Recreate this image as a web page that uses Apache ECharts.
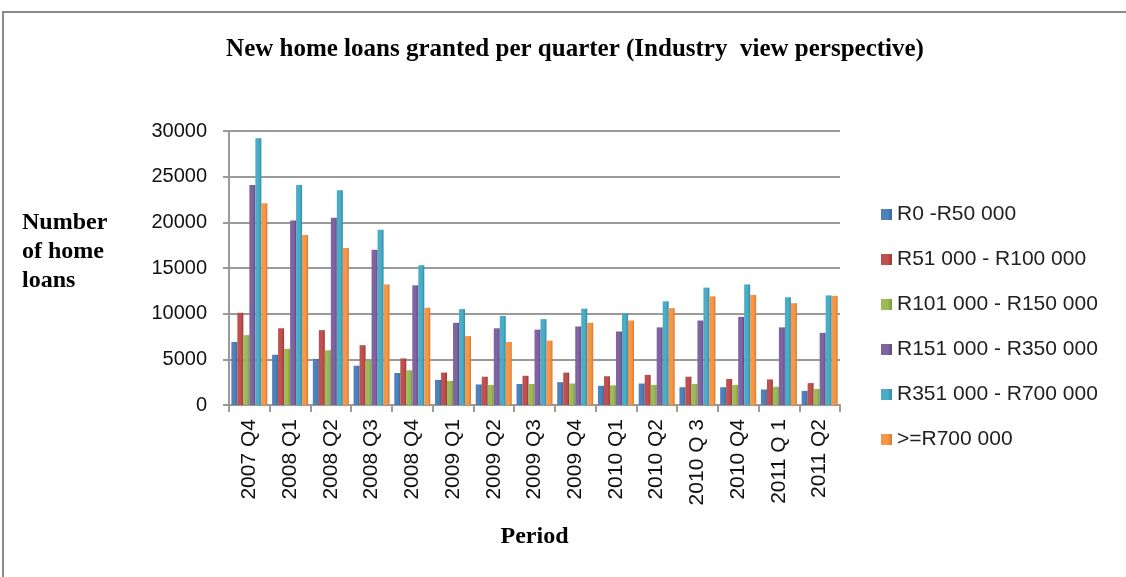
<!DOCTYPE html>
<html>
<head>
<meta charset="utf-8">
<script src="https://cdn.jsdelivr.net/npm/echarts@6/dist/echarts.min.js"></script>
<style>
  html, body { margin: 0; padding: 0; background: #fff; }
  #chart { width: 1126px; height: 577px; }
</style>
</head>
<body>
<div id="chart"></div>
<script>
// quarters along the x axis
const periods = ['2007 Q4', '2008 Q1', '2008 Q2', '2008 Q3', '2008 Q4', '2009 Q1', '2009 Q2',
  '2009 Q3', '2009 Q4', '2010 Q1', '2010 Q2', '2010 Q 3', '2010 Q4', '2011 Q 1', '2011 Q2']

// loan size bands
const r0to50 = [6900, 5500, 5050, 4300, 3500, 2750, 2250, 2300, 2500, 2100, 2350, 1950, 1950, 1700, 1550]
const r51to100 = [10100, 8400, 8200, 6550, 5100, 3550, 3100, 3200, 3550, 3150, 3300, 3100, 2850, 2800, 2400]
const r101to150 = [7650, 6150, 6000, 4850, 3800, 2650, 2200, 2300, 2350, 2150, 2200, 2300, 2200, 2000, 1750]
const r151to350 = [24100, 20200, 20500, 17000, 13100, 9000, 8400, 8250, 8600, 8050, 8500, 9250, 9650, 8500, 7900]
const r351to700 = [29200, 24100, 23500, 19200, 15300, 10500, 9750, 9400, 10550, 10050, 11350, 12850, 13200, 11800, 12000]
const rOver700 = [22100, 18600, 17200, 13200, 10650, 7550, 6900, 7050, 9000, 9250, 10600, 11900, 12050, 11150, 11950]

const yTicks = [0, 5000, 10000, 15000, 20000, 25000, 30000]

const bands = [
  { name: 'R0 -R50 000', data: r0to50, color: '#4F81BD', dark: '#3A6698' },
  { name: 'R51 000 - R100 000', data: r51to100, color: '#C0504D', dark: '#9B3A37' },
  { name: 'R101 000 - R150 000', data: r101to150, color: '#9BBB59', dark: '#7A9A3E' },
  { name: 'R151 000 - R350 000', data: r151to350, color: '#8064A2', dark: '#634A82' },
  { name: 'R351 000 - R700 000', data: r351to700, color: '#4BACC6', dark: '#2F8CA6' },
  { name: '>=R700 000', data: rOver700, color: '#F79646', dark: '#D57A2E' }
]

const chart = echarts.init(document.getElementById('chart'))

chart.setOption({
  animation: false,
  title: {
    text: 'New home loans granted per quarter (Industry  view perspective)',
    left: 570,
    textAlign: 'center',
    top: 32,
    textStyle: { fontFamily: 'Liberation Serif', fontWeight: 'bold', fontSize: 25, color: '#000' }
  },
  graphic: [
    {
      type: 'rect',
      shape: { x: 3, y: 12, width: 1130, height: 575 },
      style: { fill: 'none', stroke: '#8a8a8a', lineWidth: 2 }
    },
    {
      type: 'text',
      left: 22,
      top: 208,
      style: {
        text: 'Number\nof home\nloans',
        fontFamily: 'Liberation Serif',
        fontWeight: 'bold',
        fontSize: 24,
        lineHeight: 29,
        fill: '#000'
      }
    }
  ],
  legend: {
    orient: 'vertical',
    left: 876,
    top: 199,
    itemWidth: 11,
    itemHeight: 11,
    itemGap: 24,
    icon: 'rect',
    textStyle: { fontFamily: 'Liberation Sans', fontSize: 21, color: '#222', padding: [0, 0, 0, 0] },
    data: bands.map(b => b.name)
  },
  grid: { left: 229, right: 286, top: 131, bottom: 172 },
  xAxis: {
    type: 'category',
    data: periods,
    axisLine: { lineStyle: { color: '#9a9a9a', width: 2 } },
    axisTick: { show: true, alignWithLabel: false, length: 7, lineStyle: { color: '#9a9a9a', width: 2 } },
    axisLabel: {
      rotate: 90,
      margin: 14,
      fontFamily: 'Liberation Sans',
      fontSize: 21,
      color: '#111'
    },
    name: 'Period',
    nameLocation: 'middle',
    nameGap: 120,
    nameTextStyle: { fontFamily: 'Liberation Serif', fontWeight: 'bold', fontSize: 24, color: '#000' }
  },
  yAxis: {
    type: 'value',
    min: yTicks[0],
    max: yTicks[yTicks.length - 1],
    interval: 5000,
    axisLine: { show: true, lineStyle: { color: '#9a9a9a', width: 2 } },
    axisTick: { show: true, length: 6, lineStyle: { color: '#9a9a9a', width: 2 } },
    splitLine: { lineStyle: { color: '#9a9a9a', width: 2 } },
    axisLabel: {
      margin: 22,
      fontFamily: 'Liberation Sans',
      fontSize: 20,
      color: '#111',
      formatter: v => String(v)
    }
  },
  series: bands.map(b => ({
    name: b.name,
    type: 'bar',
    data: b.data,
    barWidth: 6,
    barGap: '0%',
    itemStyle: {
      color: new echarts.graphic.LinearGradient(0, 0, 1, 0, [
        { offset: 0, color: b.color },
        { offset: 0.6, color: b.color },
        { offset: 1, color: b.dark }
      ])
    }
  })),
  color: bands.map(b => b.color)
})
</script>
</body>
</html>
